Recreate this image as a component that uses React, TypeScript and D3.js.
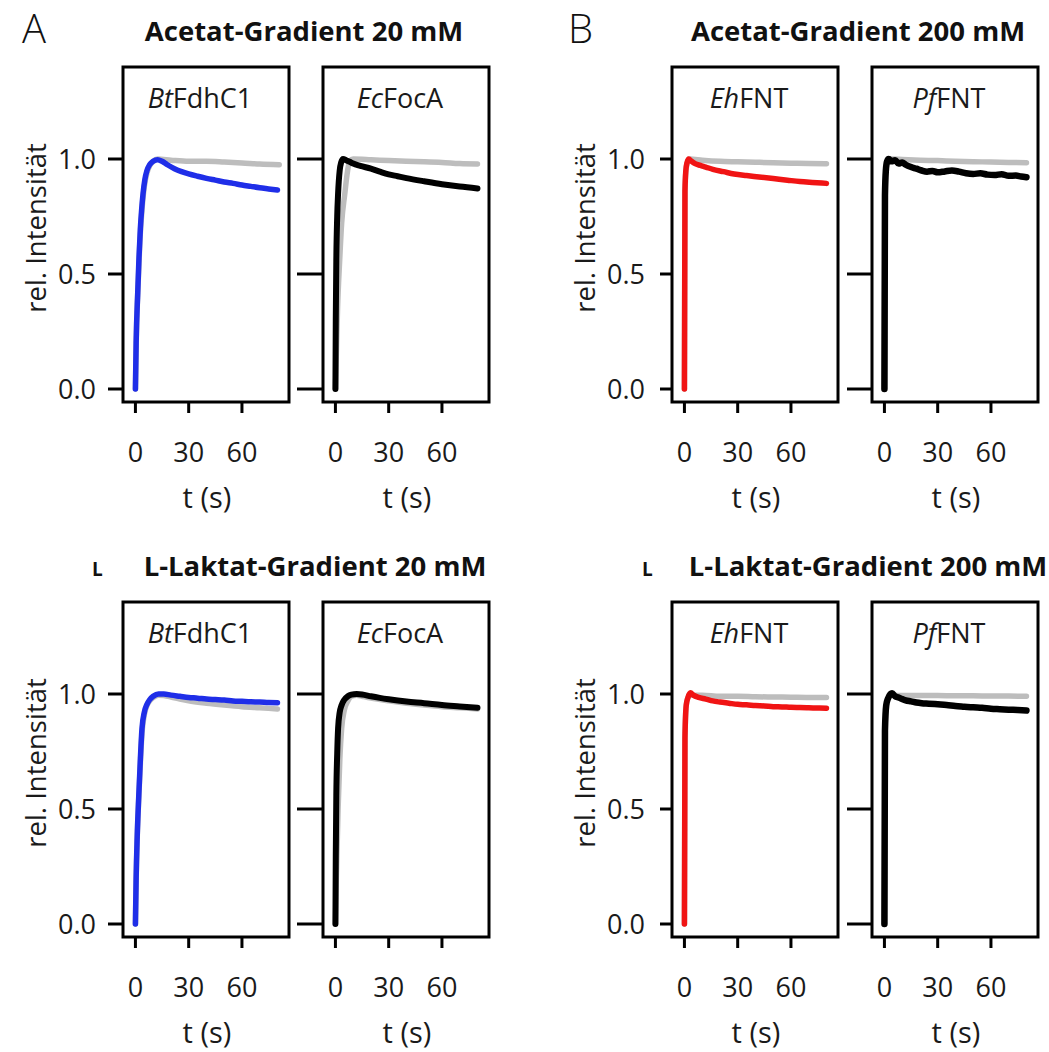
import React from "react";
import * as d3 from "d3";

// ---------- data ----------
const timeTicks = [0, 30, 60];
const yTicks = [0, 0.5, 1.0];
const yTickLabels = ["0.0", "0.5", "1.0"];
const groupTitles = [
  "Acetat-Gradient 20 mM",
  "Acetat-Gradient 200 mM",
  "L-Laktat-Gradient 20 mM",
  "L-Laktat-Gradient 200 mM",
];
const panelLetters = ["A", "B"];
const proteinItalic = ["Bt", "Ec", "Eh", "Pf"];
const proteinRest = ["FdhC1", "FocA", "FNT", "FNT"];
const seriesColors = ["#1f2ee8", "#000000", "#f01414", "#000000"];
const controlColor = "#bdbdbd";

// Acetate 20 mM, BtFdhC1
const tA20Bt = [0, 0.4, 1.3, 2.0, 2.8, 3.5, 4.3, 5.3, 6.5, 8, 10, 12.5, 15, 18, 22, 26, 30, 35, 40, 45, 50, 55, 60, 65, 70, 75, 80];
const vA20Bt = [0, 0.2, 0.42, 0.57, 0.7, 0.78, 0.85, 0.91, 0.95, 0.975, 0.99, 0.997, 0.99, 0.975, 0.958, 0.945, 0.935, 0.925, 0.916, 0.908, 0.9, 0.894, 0.887, 0.881, 0.875, 0.87, 0.865];
const tA20BtCtrl = [0, 0.5, 1.5, 2.5, 3.5, 5, 6.5, 8, 10, 12.5, 20, 30, 40, 50, 60, 70, 81];
const vA20BtCtrl = [0, 0.22, 0.45, 0.64, 0.76, 0.88, 0.94, 0.97, 0.99, 1.0, 0.995, 0.99, 0.99, 0.987, 0.983, 0.978, 0.975];
// Acetate 20 mM, EcFocA
const tA20Ec = [0, 0.2, 0.5, 1.0, 1.5, 2.4, 3.2, 4.3, 6, 8, 10, 14, 20, 25, 30, 35, 40, 50, 60, 70, 80];
const vA20Ec = [0, 0.3, 0.56, 0.75, 0.85, 0.95, 0.985, 1.0, 0.995, 0.988, 0.98, 0.97, 0.958, 0.945, 0.933, 0.925, 0.917, 0.903, 0.89, 0.88, 0.872];
const tA20EcCtrl = [0, 0.5, 1.2, 2.4, 3.5, 5.3, 6.5, 8, 10, 20, 30, 40, 50, 60, 70, 80];
const vA20EcCtrl = [0, 0.15, 0.35, 0.56, 0.72, 0.85, 0.93, 0.99, 1.0, 0.997, 0.993, 0.99, 0.988, 0.985, 0.98, 0.978];
// Acetate 200 mM, EhFNT
const tA200Eh = [0, 0.3, 0.8, 1.5, 2.4, 4, 6, 9, 12, 16, 22, 28, 35, 42, 50, 58, 65, 72, 80];
const vA200Eh = [0, 0.86, 0.95, 0.985, 1.0, 0.99, 0.98, 0.972, 0.965, 0.955, 0.945, 0.935, 0.928, 0.922, 0.915, 0.908, 0.902, 0.898, 0.894];
const tA200EhCtrl = [0, 0.3, 1, 2, 3, 10, 20, 30, 40, 50, 60, 70, 80];
const vA200EhCtrl = [0, 0.85, 0.96, 0.99, 1.0, 0.995, 0.99, 0.988, 0.986, 0.984, 0.982, 0.98, 0.979];
// Acetate 200 mM, PfFNT
const tA200Pf = [0, 0.3, 0.8, 1.5, 2.4, 4, 6, 8, 10, 12, 15, 18, 21, 24, 27, 30, 34, 38, 42, 46, 50, 54, 58, 62, 66, 70, 74, 77, 80];
const vA200Pf = [0, 0.84, 0.95, 0.99, 1.0, 0.99, 0.995, 0.98, 0.985, 0.975, 0.965, 0.958, 0.95, 0.945, 0.948, 0.942, 0.946, 0.95, 0.945, 0.938, 0.935, 0.938, 0.932, 0.93, 0.934, 0.927, 0.928, 0.924, 0.921];
const tA200PfCtrl = [0, 0.3, 1, 2.4, 5, 10, 20, 30, 40, 50, 60, 70, 80];
const vA200PfCtrl = [0, 0.84, 0.96, 1.0, 1.0, 0.998, 0.995, 0.993, 0.99, 0.988, 0.987, 0.985, 0.984];
// L-Lactate 20 mM, BtFdhC1
const tL20Bt = [0, 0.4, 1.0, 1.9, 2.8, 3.7, 5, 6.5, 8, 10, 13, 16, 20, 25, 30, 35, 40, 45, 50, 55, 60, 65, 70, 75, 80];
const vL20Bt = [0, 0.2, 0.38, 0.56, 0.72, 0.85, 0.92, 0.955, 0.975, 0.99, 1.0, 1.0, 0.995, 0.99, 0.985, 0.982, 0.978, 0.976, 0.974, 0.97, 0.968, 0.966, 0.965, 0.963, 0.962];
const tL20BtCtrl = [0, 0.4, 1.0, 1.9, 2.8, 3.7, 5, 6.5, 8, 10, 13, 16, 20, 25, 30, 40, 50, 60, 70, 80];
const vL20BtCtrl = [0, 0.19, 0.37, 0.55, 0.7, 0.83, 0.91, 0.95, 0.97, 0.985, 0.995, 0.993, 0.987, 0.978, 0.97, 0.96, 0.952, 0.945, 0.94, 0.935];
// L-Lactate 20 mM, EcFocA
const tL20Ec = [0, 0.2, 0.5, 1, 1.5, 2.4, 3.4, 5, 7, 9, 12, 15, 20, 25, 30, 40, 50, 60, 70, 80];
const vL20Ec = [0, 0.3, 0.56, 0.74, 0.85, 0.92, 0.95, 0.975, 0.99, 0.997, 1.0, 0.998, 0.99, 0.983, 0.977, 0.967, 0.96, 0.952, 0.946, 0.94];
const tL20EcCtrl = [0, 0.5, 1.5, 2.5, 3.5, 5, 7, 9, 12, 15, 20, 30, 40, 50, 60, 70, 80];
const vL20EcCtrl = [0, 0.2, 0.5, 0.72, 0.85, 0.93, 0.97, 0.99, 0.995, 0.99, 0.982, 0.97, 0.96, 0.952, 0.945, 0.94, 0.935];
// L-Lactate 200 mM, EhFNT
const tL200Eh = [0, 0.3, 1, 2, 3.4, 5, 8, 12, 16, 20, 25, 30, 35, 40, 45, 50, 55, 60, 65, 70, 75, 80];
const vL200Eh = [0, 0.81, 0.95, 0.985, 1.005, 0.995, 0.985, 0.978, 0.97, 0.965, 0.96, 0.955, 0.953, 0.95, 0.948, 0.945, 0.944, 0.942, 0.941, 0.94, 0.939, 0.938];
const tL200EhCtrl = [0, 0.3, 1, 2, 3.4, 10, 20, 30, 40, 50, 60, 70, 80];
const vL200EhCtrl = [0, 0.8, 0.95, 0.985, 0.995, 0.995, 0.99, 0.99, 0.988, 0.987, 0.986, 0.985, 0.985];
// L-Lactate 200 mM, PfFNT
const tL200Pf = [0, 0.3, 1, 2, 4.3, 6, 8, 10, 12, 15, 18, 21, 25, 30, 35, 40, 45, 50, 55, 60, 65, 70, 75, 80];
const vL200Pf = [0, 0.84, 0.95, 0.98, 1.003, 0.99, 0.985, 0.978, 0.972, 0.968, 0.963, 0.96, 0.958, 0.955, 0.952, 0.948, 0.945, 0.942, 0.94, 0.936, 0.934, 0.932, 0.93, 0.928];
const tL200PfCtrl = [0, 0.3, 1, 2, 4, 10, 20, 30, 40, 50, 60, 70, 80];
const vL200PfCtrl = [0, 0.83, 0.95, 0.98, 0.995, 0.993, 0.993, 0.993, 0.992, 0.992, 0.991, 0.991, 0.99];

const panelSeries = [
  [[tA20BtCtrl, vA20BtCtrl], [tA20Bt, vA20Bt]],
  [[tA20EcCtrl, vA20EcCtrl], [tA20Ec, vA20Ec]],
  [[tA200EhCtrl, vA200EhCtrl], [tA200Eh, vA200Eh]],
  [[tA200PfCtrl, vA200PfCtrl], [tA200Pf, vA200Pf]],
  [[tL20BtCtrl, vL20BtCtrl], [tL20Bt, vL20Bt]],
  [[tL20EcCtrl, vL20EcCtrl], [tL20Ec, vL20Ec]],
  [[tL200EhCtrl, vL200EhCtrl], [tL200Eh, vL200Eh]],
  [[tL200PfCtrl, vL200PfCtrl], [tL200Pf, vL200Pf]],
];

// ---------- layout ----------
const W = 1049;
const H = 1052;
const panelLefts = [123, 323, 672, 872];
const rowTops = [67, 602];
const panelW = 166;
const panelH = 335;
const yTickLen = [15, 26, 12, 25];
const lineWidths = [5.5, 6, 5.5, 6.5];
const FONT = "'Open Sans', 'Noto Sans', sans-serif";

function Panel({ idx }: { idx: number }) {
  const col = idx % 4;
  const row = Math.floor(idx / 4);
  const left = panelLefts[col];
  const top = rowTops[row];
  const x = d3.scaleLinear().domain([-7, 86.5]).range([left, left + panelW]);
  const y = d3.scaleLinear().domain([0, 1]).range([top + 322, top + 92]);
  const line = d3
    .line<[number, number]>()
    .x((d) => x(d[0]))
    .y((d) => y(d[1]))
    .curve(d3.curveMonotoneX);
  const series = panelSeries[idx];
  const colors = [controlColor, seriesColors[col]];
  const showYLabels = col === 0 || col === 2;
  const tl = yTickLen[col];
  return (
    <g>
      {series.map(([ts, vs], i) => (
        <path
          key={i}
          d={line(ts.map((t, k) => [t, vs[k]] as [number, number])) || ""}
          fill="none"
          stroke={colors[i]}
          strokeWidth={i === 0 ? 5.5 : lineWidths[col]}
          strokeLinejoin="round"
          strokeLinecap="round"
        />
      ))}
      <rect x={left} y={top} width={panelW} height={panelH} fill="none" stroke="#000" strokeWidth={3} />
      {yTicks.map((v, i) => (
        <g key={"y" + i}>
          <line x1={left - tl} x2={left} y1={y(v)} y2={y(v)} stroke="#000" strokeWidth={3} />
          {showYLabels && (
            <text x={left - 27} y={y(v)} dy="0.36em" textAnchor="end" fontSize={27} fontFamily={FONT} fill="#1a1a1a">
              {yTickLabels[i]}
            </text>
          )}
        </g>
      ))}
      {timeTicks.map((t) => (
        <g key={"x" + t}>
          <line x1={x(t)} x2={x(t)} y1={top + panelH} y2={top + panelH + 11} stroke="#000" strokeWidth={3} />
          <text x={x(t)} y={top + 395} textAnchor="middle" fontSize={27} fontFamily={FONT} fill="#1a1a1a">
            {t}
          </text>
        </g>
      ))}
      <text x={left + panelW / 2 + 1} y={top + 441} textAnchor="middle" fontSize={29} fontFamily={FONT} fill="#1a1a1a">
        t (s)
      </text>
      <text x={left + panelW / 2 - 6} y={top + 41} textAnchor="middle" fontSize={27} fontFamily={FONT} fill="#1a1a1a">
        <tspan fontStyle="italic">{proteinItalic[col]}</tspan>
        {proteinRest[col]}
      </text>
      {showYLabels && (
        <text
          transform={`translate(${left - 77},${top + 161}) rotate(-90)`}
          textAnchor="middle"
          fontSize={27.5}
          fontFamily={FONT}
          fill="#1a1a1a"
        >
          rel. Intensität
        </text>
      )}
    </g>
  );
}

export default function App() {
  const titleCenters = [304, 858, 315, 868];
  const titleBaselines = [41, 41, 576, 576];
  return (
    <svg width={W} height={H} style={{ position: "absolute", left: 0, top: 0, background: "#fff" }}>
      <rect x={0} y={0} width={W} height={H} fill="#fff" />
      {groupTitles.map((s, i) => (
        <text
          key={s}
          x={titleCenters[i]}
          y={titleBaselines[i]}
          textAnchor="middle"
          fontSize={27.5}
          fontWeight="bold"
          fontFamily={FONT}
          fill="#111"
        >
          {s}
        </text>
      ))}
      {panelLetters.map((s, i) => (
        <text key={s} x={[22, 568][i]} y={43} fontSize={40} fontWeight={300} fontFamily={FONT} fill="#111">
          {s}
        </text>
      ))}
      {[92, 642].map((xx) => (
        <text key={xx} x={xx} y={576} fontSize={19} fontWeight="bold" fontFamily={FONT} fill="#111">
          L
        </text>
      ))}
      {d3.range(8).map((i) => (
        <Panel key={i} idx={i} />
      ))}
    </svg>
  );
}
